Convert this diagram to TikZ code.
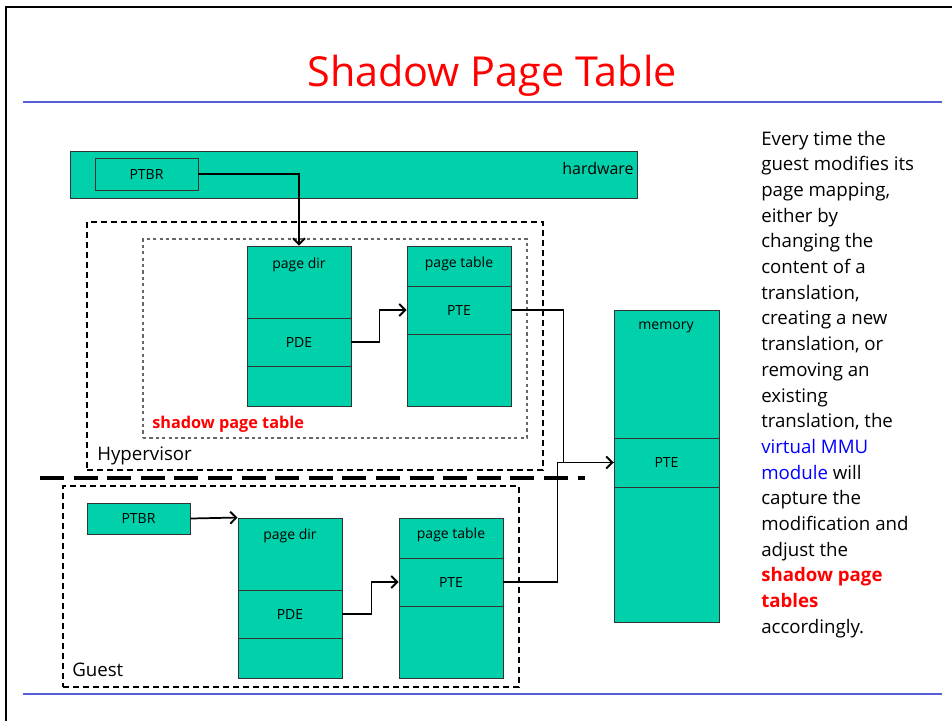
\documentclass[tikz,border=0pt]{standalone}
\usepackage{fontspec}
\setmainfont{Open Sans}
\usetikzlibrary{arrows.meta,fit}
\definecolor{tealfill}{RGB}{0,209,171}
\definecolor{rulecol}{RGB}{85,95,215}
\definecolor{titlered}{RGB}{255,0,0}
\definecolor{mmublue}{RGB}{0,0,255}
\begin{document}
\begin{tikzpicture}[x=0.75pt,y=-0.75pt,
  box/.style={draw=black!80,line width=0.7pt,fill=tealfill,inner sep=0pt},
  lbl/.style={inner sep=0pt,font=\fontsize{10.5}{12}\selectfont},
  link/.style={line width=1.3pt,-{Straight Barb[length=4.5pt,width=9pt,line width=1.4pt]}},
  wire/.style={line width=1.3pt},
  zone/.style={draw=black,line width=1pt,dash pattern=on 4.5pt off 3pt},
  shadowzone/.style={draw=black!60,line width=0.8pt,dash pattern=on 2.4pt off 2.4pt},
  side/.style={inner sep=0pt,anchor=base west,font=\fontsize{14}{16}\selectfont}]
  \useasboundingbox (0,0) rectangle (952,721);
  \fill[white] (0,0) rectangle (952,721);

  % slide frame and rules
  \draw[line width=2.2pt] (5,7) -- (952,7);
  \draw[line width=1pt] (6,7) -- (6,721);
  \draw[rulecol,line width=1.6pt] (23,102) -- (942,102);
  \draw[rulecol,line width=1.6pt] (23,694) -- (942,694);
  \node[anchor=base,inner sep=0pt,text=titlered,font=\fontsize{31}{34}\selectfont] (title) at (492,86) {Shadow Page Table};

  % hardware bar
  \node[box,fit={(70,151) (637,198)}] (hw) {};
  \node[lbl,font=\fontsize{12}{14}\selectfont] (hwlbl) at (598,168) {hardware};
  \node[box,fit={(95,158) (198,190)}] (hptbr) {};
  \node[lbl] at (hptbr.center) {PTBR};

  % hypervisor region with the shadow page table
  \node[zone,inner sep=0pt,fit={(87,222) (543,470)}] (hyp) {};
  \node[shadowzone,inner sep=0pt,fit={(143,239) (527,438)}] (shz) {};
  \node[inner sep=0pt,anchor=west,font=\fontsize{14}{16}\selectfont] (hyplbl) at (97,456) {Hypervisor};
  \node[inner sep=0pt,anchor=west,text=titlered,font=\bfseries\fontsize{12.2}{14}\selectfont] (shlbl) at (152,424) {shadow page table};

  \node[box,fit={(247,246) (351,406)}] (sdir) {};
  \node[lbl] at (299,265) {page dir};
  \node[box,fit={(247,318) (351,366)}] (spde) {};
  \node[lbl] at (spde.center) {PDE};

  \node[box,fit={(407,246) (511,406)}] (stab) {};
  \node[lbl] at (459,264) {page table};
  \node[box,fit={(407,286) (511,334)}] (spte) {};
  \node[lbl] at (spte.center) {PTE};

  % hypervisor / guest boundary
  \draw[line width=2.3pt,dash pattern=on 18pt off 7.2pt] (40,478) -- (585,478);

  % guest region
  \node[zone,inner sep=0pt,fit={(63,486) (519,687)}] (guest) {};
  \node[inner sep=0pt,anchor=west,font=\fontsize{14}{16}\selectfont] (guestlbl) at (72,670) {Guest};
  \node[box,fit={(87,503) (190,534)}] (gptbr) {};
  \node[lbl] at (gptbr.center) {PTBR};

  \node[box,fit={(238,518) (342,678)}] (gdir) {};
  \node[lbl] at (290,536) {page dir};
  \node[box,fit={(238,590) (342,638)}] (gpde) {};
  \node[lbl] at (gpde.center) {PDE};

  \node[box,fit={(399,518) (503,678)}] (gtab) {};
  \node[lbl] at (451,535) {page table};
  \node[box,fit={(399,558) (503,606)}] (gpte) {};
  \node[lbl] at (gpte.center) {PTE};

  % physical memory
  \node[box,fit={(614,310) (719,622)}] (mem) {};
  \node[lbl] at (666,327) {memory};
  \node[box,fit={(614,438) (719,487)}] (mpte) {};
  \node[lbl] at (mpte.center) {PTE};

  % connectors
  \draw[link] (hptbr.east) -| (sdir.north);
  \draw[link] (spde.east) -- ++(28,0) |- (spte.west);
  \draw[wire] (gpte.east) -- ++(54,0) |- (mpte.west);
  \draw[link] (spte.east) -- ++(52,0) |- (mpte.west);
  \draw[link] (gptbr.east) -- (gdir.north west);
  \draw[link] (gpde.east) -- ++(29,0) |- (gpte.west);

  % explanation
  \begin{scope}[every node/.style={side}]
    \node at (761,145) {Every time the};
    \node at (761,170.7) {guest modifies its};
    \node at (761,196.4) {page mapping,};
    \node at (761,222.1) {either by};
    \node at (761,247.8) {changing the};
    \node at (761,273.5) {content of a};
    \node at (761,299.2) {translation,};
    \node at (761,324.9) {creating a new};
    \node at (761,350.6) {translation, or};
    \node at (761,376.3) {removing an};
    \node at (761,402) {existing};
    \node at (761,427.7) {translation, the};
    \node at (761,453.4) {\textcolor{mmublue}{virtual MMU}};
    \node at (761,479.1) {\textcolor{mmublue}{module} will};
    \node at (761,504.8) {capture the};
    \node at (761,530.5) {modification and};
    \node at (761,556.2) {adjust the};
    \node at (761,581.9) {\textcolor{titlered}{\bfseries shadow page}};
    \node at (761,607.6) {\textcolor{titlered}{\bfseries tables}};
    \node at (761,633.3) {accordingly.};
  \end{scope}
\end{tikzpicture}
\end{document}
